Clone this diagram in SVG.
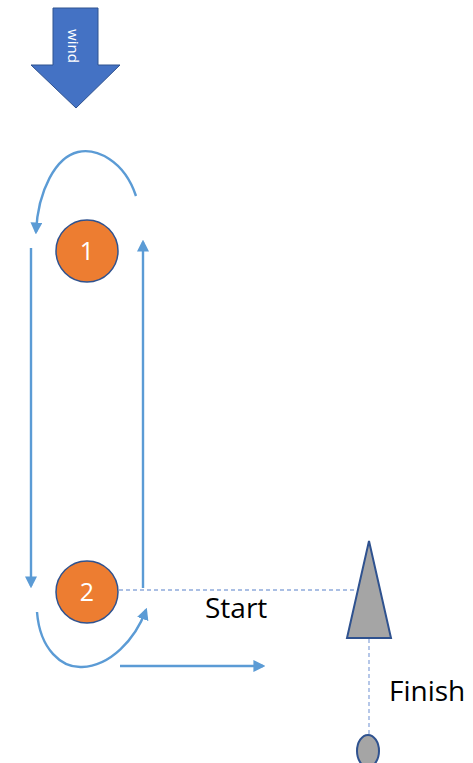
<svg xmlns="http://www.w3.org/2000/svg" width="473" height="763" viewBox="0 0 473 763">
<style>
.ln{fill:none;stroke:#5B9BD5;stroke-width:2.4}
.dash{fill:none;stroke:#8FAADC;stroke-width:1.3;stroke-dasharray:4 3}
.mark{fill:#ED7D31;stroke:#2F528F;stroke-width:1.5}
.num{font-family:"Open Sans","Liberation Sans",sans-serif;font-size:25px;fill:#fff;text-anchor:middle}
.lbl{font-family:"Open Sans","Liberation Sans",sans-serif;font-size:28px;fill:#000}
.grey{fill:#A5A5A5;stroke:#2F528F;stroke-width:2}
</style>
<defs>
<marker id="ah" viewBox="0 0 10 10" refX="8" refY="5" markerWidth="5" markerHeight="5" orient="auto" markerUnits="strokeWidth">
<path d="M0,0 L10,5 L0,10 z" fill="#5B9BD5"/>
</marker>
</defs>
<rect width="473" height="763" fill="#fff"/>
<g id="wind">
<path d="M53,8 H98 V65 H120 L76,108 L31,65 H53 Z" fill="#4472C4" stroke="#2F528F" stroke-width="1"/>
<text transform="translate(68,46) rotate(90)" font-family="Open Sans, Liberation Sans, sans-serif" font-size="15" fill="#fff" text-anchor="middle">wind</text>
</g>
<g id="connectors">
<path class="ln" d="M31,248 V586" marker-end="url(#ah)"/>
<path class="ln" d="M143,588 V242" marker-end="url(#ah)"/>
<path class="ln" d="M136,196 C124,160 96,148 78,152 C56,157 38,190 36,232" marker-end="url(#ah)"/>
<path class="ln" d="M37,612 C40,650 62,668 82,667 C110,666 135,640 146,610" marker-end="url(#ah)"/>
<path class="ln" d="M120,666 H263" marker-end="url(#ah)"/>
<path class="dash" d="M119,590 H358"/>
<path class="dash" d="M369,639 V736"/>
</g>
<g id="mark1">
<circle class="mark" cx="87" cy="251" r="31"/>
<text class="num" x="87" y="260">1</text>
</g>
<g id="mark2">
<circle class="mark" cx="87" cy="592" r="31"/>
<text class="num" x="87" y="601">2</text>
</g>
<g id="start-mark">
<path class="grey" d="M369,541 L391,638 L347,638 Z"/>
</g>
<g id="finish-mark">
<ellipse class="grey" cx="368" cy="751" rx="11" ry="16"/>
</g>
<g id="labels">
<text class="lbl" x="205" y="618">Start</text>
<text class="lbl" x="389" y="701">Finish</text>
</g>
</svg>
